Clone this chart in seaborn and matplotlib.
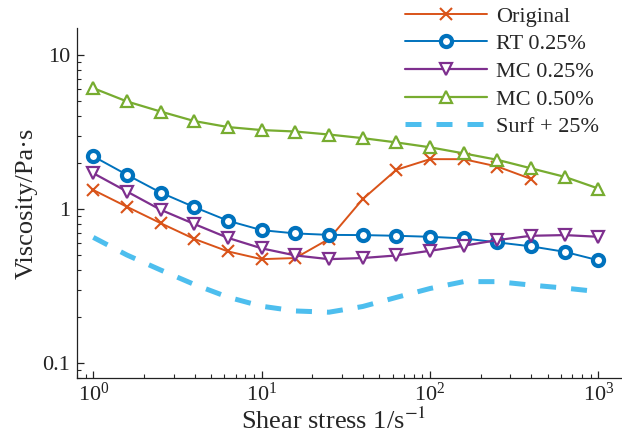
import numpy as np
import pandas as pd
import matplotlib
matplotlib.use("Agg")
import matplotlib.pyplot as plt
import seaborn as sns
from matplotlib.ticker import FixedLocator, FixedFormatter, LogLocator, NullFormatter

# ---- data ----
shear = [1, 1.585, 2.512, 3.981, 6.31, 10, 15.85, 25.12, 39.81, 63.1, 100, 158.5, 251.2, 398.1, 631, 1000]
original = [1.33, 1.035, 0.81, 0.64, 0.531, 0.473, 0.481, 0.64, 1.16, 1.80, 2.11, 2.11, 1.89, 1.57]
rt_025 = [2.20, 1.67, 1.28, 1.03, 0.84, 0.73, 0.695, 0.68, 0.678, 0.671, 0.661, 0.645, 0.608, 0.573, 0.528, 0.465]
mc_025 = [1.71, 1.30, 0.99, 0.80, 0.65, 0.556, 0.50, 0.473, 0.481, 0.50, 0.536, 0.578, 0.629, 0.671, 0.678, 0.661]
mc_050 = [6.1, 5.0, 4.3, 3.73, 3.41, 3.26, 3.19, 3.05, 2.89, 2.71, 2.52, 2.30, 2.09, 1.84, 1.62, 1.36]
surf_25 = [0.655, 0.503, 0.402, 0.324, 0.268, 0.234, 0.218, 0.214, 0.233, 0.267, 0.305, 0.338, 0.338, 0.321, 0.307, 0.291]
labels = ["Original", "RT 0.25%", "MC 0.25%", "MC 0.50%", "Surf + 25%"]
y_ticks = [0.1, 1, 10]
y_ticklabels = ["0.1", "1", "10"]

series = [original, rt_025, mc_025, mc_050, surf_25]
rows = []
for lab, vals in zip(labels, series):
    for x, v in zip(shear, vals):
        rows.append({"shear": x, "visc": v, "series": lab})
df = pd.DataFrame(rows)

# ---- style ----
sns.set_style("ticks")
plt.rcParams["font.family"] = ["Liberation Serif", "DejaVu Serif"]
plt.rcParams["mathtext.fontset"] = "stix"
plt.rcParams["xtick.direction"] = "in"
plt.rcParams["ytick.direction"] = "in"

colors = ["#D95319", "#0072BD", "#7E2F8E", "#77AC30", "#4DBEEE"]
styles = [
    dict(marker="x", markersize=9, markeredgewidth=1.5, linewidth=1.4),
    dict(marker="o", markersize=8, markeredgewidth=3.0, markerfacecolor="white", linewidth=1.4),
    dict(marker="v", markersize=8.5, markeredgewidth=1.6, markerfacecolor="white", linewidth=1.6),
    dict(marker="^", markersize=8.5, markeredgewidth=1.6, markerfacecolor="white", linewidth=1.6),
    dict(linewidth=3.6, linestyle=(0, (3.2, 3.0))),
]

W, H = 622, 441
fig = plt.figure(figsize=(W / 100, H / 100), dpi=100)
ax_w_px = W - 77 + 6
ax = fig.add_axes([77 / W, (H - 378) / H, ax_w_px / W, (378 - 28) / H])

for lab, col, st in zip(labels, colors, styles):
    sub = df[df["series"] == lab]
    kw = dict(st)
    if "marker" in kw:
        kw["markeredgecolor"] = col
    sns.lineplot(data=sub, x="shear", y="visc", ax=ax, color=col, label=lab,
                 estimator=None, sort=False, errorbar=None, **kw)

ax.set_xscale("log")
ax.set_yscale("log")
ax.set_xlim(0.8, 1500)
ax.set_ylim(0.08, 15)

ax.yaxis.set_major_locator(FixedLocator(y_ticks))
ax.yaxis.set_major_formatter(FixedFormatter(y_ticklabels))
ax.yaxis.set_minor_locator(LogLocator(base=10, subs=np.arange(2, 10)))
ax.yaxis.set_minor_formatter(NullFormatter())
ax.xaxis.set_minor_locator(LogLocator(base=10, subs=np.arange(2, 10)))
ax.xaxis.set_minor_formatter(NullFormatter())

ax.tick_params(which="major", length=5, width=0.9, labelsize=16, colors="#222222")
ax.tick_params(axis="y", which="major", pad=5)
ax.tick_params(which="minor", length=3, width=0.8)
for s in ["top", "right"]:
    ax.spines[s].set_visible(False)
for s in ["left", "bottom"]:
    ax.spines[s].set_linewidth(0.9)
    ax.spines[s].set_color("#222222")

ax.set_xlabel("Shear stress 1/s$^{-1}$", fontsize=19)
ax.set_ylabel("Viscosity/Pa·s", fontsize=19)
ax.xaxis.set_label_coords((334 - 77) / ax_w_px, (378 - 408) / 350)
ax.yaxis.set_label_coords((38 - 77) / ax_w_px, 0.5)

leg = ax.legend(loc="upper left", frameon=False, fontsize=16, handlelength=3.7,
                labelspacing=0.32, borderpad=0.0, borderaxespad=0.0, handletextpad=0.4,
                bbox_to_anchor=(405 / W, 1 - 6 / H), bbox_transform=fig.transFigure)

fig.savefig("out.png", dpi=100)
